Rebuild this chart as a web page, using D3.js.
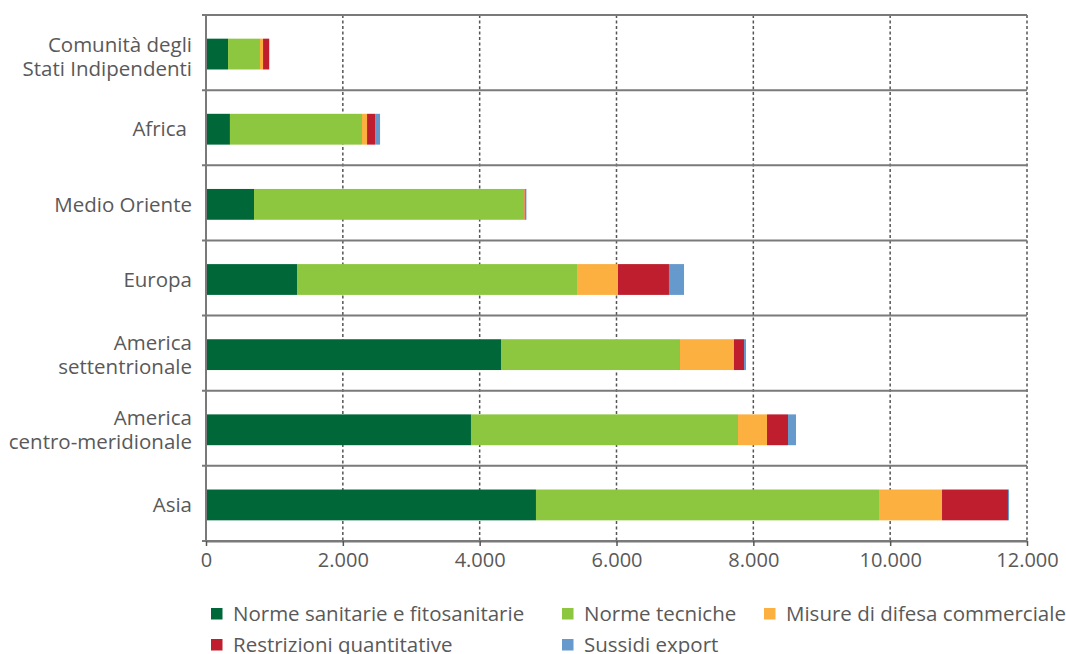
<!DOCTYPE html>
<html>
<head>
<meta charset="utf-8">
<script src="https://d3js.org/d3.v7.min.js"></script>
<style>
html,body{margin:0;padding:0;background:#fff;}
svg{display:block;font-family:"Open Sans",sans-serif;}
</style>
</head>
<body>
<svg id="chart" width="1066" height="654"></svg>
<script>
const categories = [
  ["Comunità degli", "Stati Indipendenti"],
  ["Africa"],
  ["Medio Oriente"],
  ["Europa"],
  ["America", "settentrionale"],
  ["America", "centro-meridionale"],
  ["Asia"]
];
const seriesNames = ["Norme sanitarie e fitosanitarie", "Norme tecniche", "Misure di difesa commerciale", "Restrizioni quantitative", "Sussidi export"];
const seriesColors = ["#006838", "#8dc63f", "#fbb040", "#be1e2d", "#6699cc"];
const sanitarie     = [322, 350, 702, 1330, 4312, 3873, 4823];
const tecniche      = [467, 1930, 3946, 4093, 2616, 3903, 5014];
const difesa        = [45, 74, 10, 599, 789, 424, 921];
const restrizioni   = [90, 117, 15, 745, 147, 307, 964];
const sussidi       = [0, 73, 10, 220, 29, 117, 15];
const xTicks = [0, 2000, 4000, 6000, 8000, 10000, 12000];
const xTickLabels = ["0", "2.000", "4.000", "6.000", "8.000", "10.000", "12.000"];

(function () {
const svg = d3.select("#chart");
const mLeft = 206, mRight = 1027, mTop = 15, mBottom = 541;
const textColor = "#595959";

const keys = seriesNames.map((d, i) => "s" + i);
const seriesArrays = [sanitarie, tecniche, difesa, restrizioni, sussidi];
const rows = categories.map((c, i) => {
  const r = {cat: c.join(" ")};
  keys.forEach((k, j) => r[k] = seriesArrays[j][i]);
  return r;
});

const x = d3.scaleLinear().domain([0, 12000]).range([mLeft, mRight]);
const y = d3.scaleBand().domain(rows.map(r => r.cat)).range([mTop, mBottom]).paddingInner(0.59).paddingOuter(0.295);
const color = d3.scaleOrdinal().domain(keys).range(seriesColors);

// vertical dashed gridlines
svg.append("g").selectAll("line").data(xTicks.slice(1)).join("line")
  .attr("x1", d => x(d)).attr("x2", d => x(d))
  .attr("y1", mTop).attr("y2", mBottom)
  .attr("stroke", "#555").attr("stroke-width", 1.5).attr("stroke-dasharray", "3,2.5");

// horizontal band separators
const step = y.step();
const seps = d3.range(categories.length + 1).map(i => mTop + i * step);
svg.append("g").selectAll("line").data(seps).join("line")
  .attr("x1", mLeft - 4).attr("x2", mRight)
  .attr("y1", d => d).attr("y2", d => d)
  .attr("stroke", "#7a7a7a").attr("stroke-width", 2);

// stacked bars
const stack = d3.stack().keys(keys)(rows);
svg.append("g").selectAll("g").data(stack).join("g")
  .attr("fill", d => color(d.key))
  .selectAll("rect").data(d => d).join("rect")
  .attr("x", d => x(d[0]))
  .attr("width", d => Math.max(0, x(d[1]) - x(d[0])))
  .attr("y", d => y(d.data.cat) + 1.5)
  .attr("height", y.bandwidth());

// y axis line
svg.append("line").attr("x1", mLeft).attr("x2", mLeft).attr("y1", mTop).attr("y2", mBottom)
  .attr("stroke", "#7a7a7a").attr("stroke-width", 2);

// x axis
const xAxis = d3.axisBottom(x).tickValues(xTicks).tickFormat((d, i) => xTickLabels[i]).tickSize(5).tickSizeOuter(0);
const gx = svg.append("g").attr("transform", `translate(0,${mBottom})`).call(xAxis);
gx.select(".domain").attr("stroke", "#7a7a7a").attr("stroke-width", 2);
gx.selectAll(".tick line").attr("stroke", "#555").attr("stroke-width", 1.5);
gx.selectAll(".tick text").attr("fill", textColor).attr("font-size", 20)
  .attr("font-family", "Open Sans").attr("y", 12).attr("dy", "0.71em");

// category labels
const lab = svg.append("g");
categories.forEach((lines, i) => {
  const cy = y(rows[i].cat) + y.bandwidth() / 2 + 1.5 + (i === 0 ? 3 : 0);
  const lh = 24;
  const t = lab.append("text").attr("text-anchor", "end").attr("fill", textColor)
    .attr("font-size", 20.5).attr("font-family", "Open Sans");
  lines.forEach((l, k) => {
    t.append("tspan").attr("x", i === 1 ? 187 : 192)
      .attr("y", cy + (k - (lines.length - 1) / 2) * lh)
      .attr("dy", "0.35em").text(l);
  });
});

// legend
const legendPos = [[211, 614], [562, 614], [764, 614], [211, 645], [562, 645]];
const lg = svg.append("g");
seriesNames.forEach((n, i) => {
  const [lx, ly] = legendPos[i];
  lg.append("rect").attr("x", lx).attr("y", ly - 6).attr("width", 11.5).attr("height", 11.5).attr("fill", seriesColors[i]);
  lg.append("text").attr("x", lx + 22).attr("y", ly).attr("dy", "0.35em")
    .attr("fill", textColor).attr("font-size", 20.5).attr("font-family", "Open Sans").text(n);
});
})();
</script>
</body>
</html>
